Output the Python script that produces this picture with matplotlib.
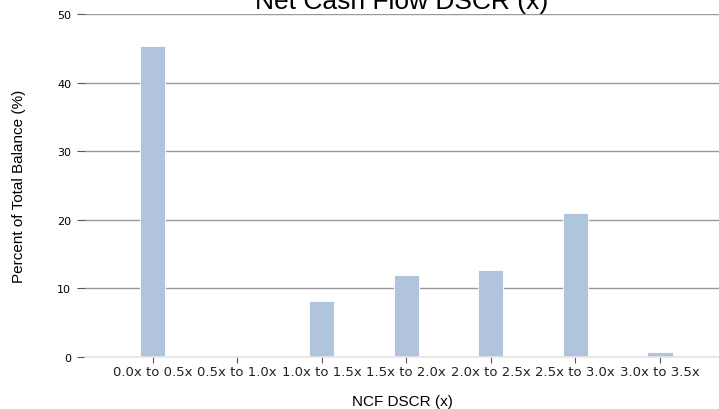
import matplotlib
matplotlib.use("Agg")
import matplotlib.pyplot as plt
from matplotlib import font_manager

categories = ["0.0x to 0.5x", "0.5x to 1.0x", "1.0x to 1.5x", "1.5x to 2.0x",
              "2.0x to 2.5x", "2.5x to 3.0x", "3.0x to 3.5x"]
pct_balance = [45.4, 0.0, 8.1, 12.0, 12.7, 21.0, 0.8]

names = {f.name for f in font_manager.fontManager.ttflist}
narrow = "Liberation Sans Narrow" if "Liberation Sans Narrow" in names else "Liberation Sans"

fig = plt.figure(figsize=(7.19, 4.10), dpi=100)
ax = fig.add_axes([85 / 719, 1 - 358 / 410, 1 - 85 / 719, (358 - 15) / 410])

x = range(len(categories))
ax.bar(x, pct_balance, width=0.3, color="#b0c4de", edgecolor="white",
       linewidth=0.6, zorder=2)

ax.set_ylim(0, 50)
ax.set_xlim(-0.8, 6.7)
ax.set_yticks([0, 10, 20, 30, 40, 50])
ax.set_xticks(list(x))
ax.set_xticklabels(categories, fontsize=9.5, family="DejaVu Sans",
                   color="#222222")
ax.tick_params(axis="y", labelsize=8, length=6, color="#555", pad=4)
ax.tick_params(axis="x", length=4, color="#555", pad=2)
ax.yaxis.grid(True, color="#999999", linewidth=1.0, zorder=0)
for lab in ax.get_yticklabels():
    lab.set_family("DejaVu Sans")

for s in ["top", "right", "left"]:
    ax.spines[s].set_visible(False)
ax.spines["bottom"].set_color("#e6e6e6")
ax.spines["bottom"].set_linewidth(1.2)

ax.set_ylabel("Percent of Total Balance (%)", family=narrow, fontsize=11,
              labelpad=22)
ax.set_xlabel("NCF DSCR (x)", family="Liberation Sans", fontsize=11,
              labelpad=11)
fig.text(0.558, 1 - 9 / 410, "Net Cash Flow DSCR (x)", family="Liberation Sans",
         fontsize=19, ha="center", va="baseline")

fig.savefig("out.png", dpi=100)
